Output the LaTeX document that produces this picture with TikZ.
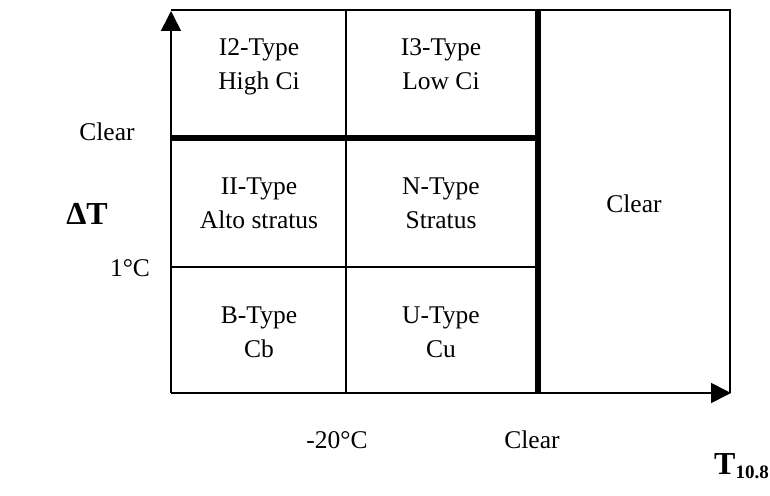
\documentclass[tikz,border=0pt]{standalone}
\usepackage{fontspec}
\setmainfont{Liberation Serif}
\usetikzlibrary{arrows.meta}
\begin{document}
\begin{tikzpicture}[x=1pt,y=-1pt,
  thinline/.style={line width=1.6pt,black},
  thickline/.style={line width=6.5pt,black},
  axis/.style={line width=1.6pt,black,-{Triangle[length=20pt,width=20pt]}},
  cell/.style={align=center,inner sep=0pt,font=\fontsize{25.5}{34}\selectfont},
  lbl/.style={inner sep=0pt,font=\fontsize{25.5}{30}\selectfont},
  biglbl/.style={inner sep=0pt,font=\fontsize{32}{36}\selectfont\bfseries}]
\useasboundingbox (0,0) rectangle (770,495);
% corner coordinates
\coordinate (O) at (171,393);
\coordinate (Ytip) at (171,11);
\coordinate (Xtip) at (731,393);
\coordinate (TL) at (171,10);
\coordinate (TR) at (730,10);
\coordinate (BR) at (730,393);
\coordinate (Vt) at (346,10);
\coordinate (Vb) at (346,393);
\coordinate (Kt) at (538,10);
\coordinate (Kb) at (538,393);
\coordinate (Hl) at (171,138);
\coordinate (Hr) at (541,138);
\coordinate (hl) at (171,267);
\coordinate (hr) at (538,267);
% frame
\draw[thinline] (TL) -- (TR) -- (BR);
\draw[thinline] (Vt) -- (Vb);
\draw[thinline] (hl) -- (hr);
\draw[thickline] (Hl) -- (Hr);
\draw[thickline] (Kt) -- (Kb);
\draw[axis] (O) -- (Ytip);
\draw[axis] (O) -- (Xtip);
% cells
\node[cell] (i2) at (259,66) {I2-Type\strut\\High Ci\strut};
\node[cell] (i3) at (441,66) {I3-Type\strut\\Low Ci\strut};
\node[cell] (ii) at (259,205) {II-Type\strut\\Alto stratus\strut};
\node[cell] (n) at (441,205) {N-Type\strut\\Stratus\strut};
\node[cell] (clr) at (634,204) {Clear};
\node[cell] (b) at (259,334) {B-Type\strut\\Cb\strut};
\node[cell] (u) at (441,334) {U-Type\strut\\Cu\strut};
% axis labels
\node[lbl] (clearY) at (107,132) {Clear};
\node[lbl] (oneC) at (130,268) {1°C};
\node[lbl] (m20) at (337,440) {-20°C};
\node[lbl] (clearX) at (532,440) {Clear};
\node[biglbl] (dT) at (87,214) {ΔT};
\node[biglbl,anchor=base west] (T108) at (714,474) {T\textsubscript{\fontsize{19}{21}\selectfont 10.8}};
\end{tikzpicture}
\end{document}
